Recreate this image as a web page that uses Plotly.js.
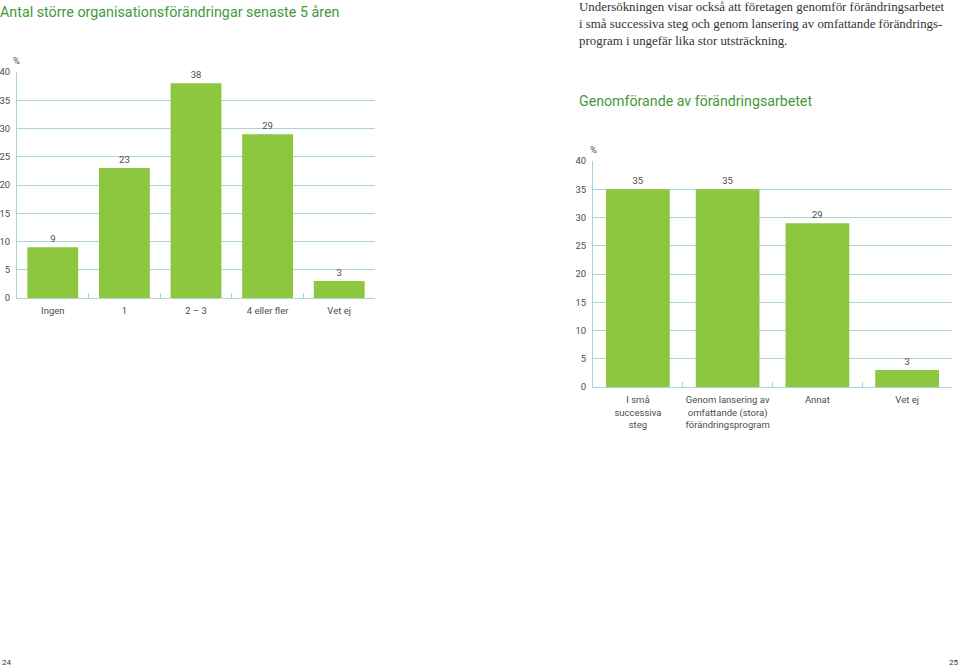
<!DOCTYPE html>
<html><head><meta charset="utf-8">
<script src="https://cdn.plot.ly/plotly-3.0.1.min.js"></script>
<style>body{margin:0;padding:0;background:#fff}#chart{width:960px;height:667px}</style>
</head><body><div id="chart"></div>
<script>
// Left chart: Antal större organisationsförändringar senaste 5 åren
var leftCategories = ["Ingen", "1", "2 – 3", "4 eller fler", "Vet ej"];
var leftValues = [9, 23, 38, 29, 3];
// Right chart: Genomförande av förändringsarbetet
var rightCategories = ["I små<br>successiva<br>steg", "Genom lansering av<br>omfattande (stora)<br>förändringsprogram", "Annat", "Vet ej"];
var rightValues = [35, 35, 29, 3];
var yTicks = [0, 5, 10, 15, 20, 25, 30, 35, 40];

var W = 960, H = 667;
function px(x){return x/W;}
function py(y){return 1 - y/H;}

var barColor = '#8dc63f';
var gridColor = '#a9d6cf';
var textColor = '#4d4d4d';
var font = 'Roboto, "Open Sans", sans-serif';

var traces = [
  {type:'bar', x:leftCategories, y:leftValues, xaxis:'x', yaxis:'y',
   marker:{color:barColor}, text:leftValues.map(String), textposition:'outside',
   cliponaxis:false, textfont:{size:9.5, color:textColor, family:font}, hoverinfo:'none'},
  {type:'bar', x:rightCategories, y:rightValues, xaxis:'x2', yaxis:'y2',
   marker:{color:barColor}, text:rightValues.map(String), textposition:'outside',
   cliponaxis:false, textfont:{size:9.5, color:textColor, family:font}, hoverinfo:'none'}
];

var axisCommon = {
  showgrid:false, zeroline:false, showline:true, linecolor:gridColor, linewidth:1,
  ticks:'inside', tickson:'boundaries', ticklen:5, tickcolor:gridColor, tickangle:0,
  ticklabelstandoff:4,
  tickfont:{size:9.5, color:textColor, family:font}, fixedrange:true
};
var yCommon = {
  range:[0,40], tickvals:yTicks, showgrid:true, gridcolor:gridColor, gridwidth:1,
  zeroline:false, showline:true, linecolor:gridColor, ticks:'', ticklabelstandoff:4,
  tickfont:{size:9.5, color:textColor, family:font}, fixedrange:true
};

var layout = {
  width:W, height:H, margin:{l:0,r:0,t:0,b:0},
  paper_bgcolor:'#fff', plot_bgcolor:'#fff', showlegend:false, bargap:0.29,
  font:{family:font, color:textColor},
  title:{text:'Antal större organisationsförändringar senaste 5 åren', x:0, xanchor:'left',
         y:py(12), yanchor:'middle', xref:'paper', yref:'paper',
         font:{size:14.3, color:'#3f9a3a', family:font}},
  xaxis:Object.assign({}, axisCommon, {domain:[px(17), px(375)], anchor:'y'}),
  yaxis:Object.assign({}, yCommon, {domain:[py(298), py(72)], anchor:'x'}),
  xaxis2:Object.assign({}, axisCommon, {domain:[px(593), px(952)], anchor:'y2'}),
  yaxis2:Object.assign({}, yCommon, {domain:[py(387), py(161)], anchor:'x2'}),
  annotations:[
    {text:'%', xref:'paper', yref:'paper', x:px(11), y:py(60), xanchor:'left', yanchor:'middle', showarrow:false,
     font:{size:9.5, color:textColor, family:font}},
    {text:'%', xref:'paper', yref:'paper', x:px(588), y:py(149), xanchor:'left', yanchor:'middle', showarrow:false,
     font:{size:9.5, color:textColor, family:font}},
    {text:'Undersökningen visar också att företagen genomför förändringsarbetet<br>i små successiva steg och genom lansering av omfattande förändrings-<br>program i ungefär lika stor utsträckning.',
     xref:'paper', yref:'paper', x:px(577), y:py(-2), xanchor:'left', yanchor:'top', align:'left', showarrow:false,
     font:{size:12.9, color:'#333', family:'"Liberation Serif", "DejaVu Serif", serif'}},
    {text:'Genomförande av förändringsarbetet', xref:'paper', yref:'paper', x:px(577), y:py(101),
     xanchor:'left', yanchor:'middle', showarrow:false, font:{size:14.2, color:'#3f9a3a', family:font}},
    {text:'24', xref:'paper', yref:'paper', x:0, y:py(662), xanchor:'left', yanchor:'middle', showarrow:false,
     font:{size:8, color:'#333', family:font}},
    {text:'25', xref:'paper', yref:'paper', x:1, y:py(662), xanchor:'right', yanchor:'middle', showarrow:false,
     font:{size:8, color:'#333', family:font}}
  ]
};

Plotly.newPlot('chart', traces, layout, {staticPlot:true, displayModeBar:false});
</script></body></html>
